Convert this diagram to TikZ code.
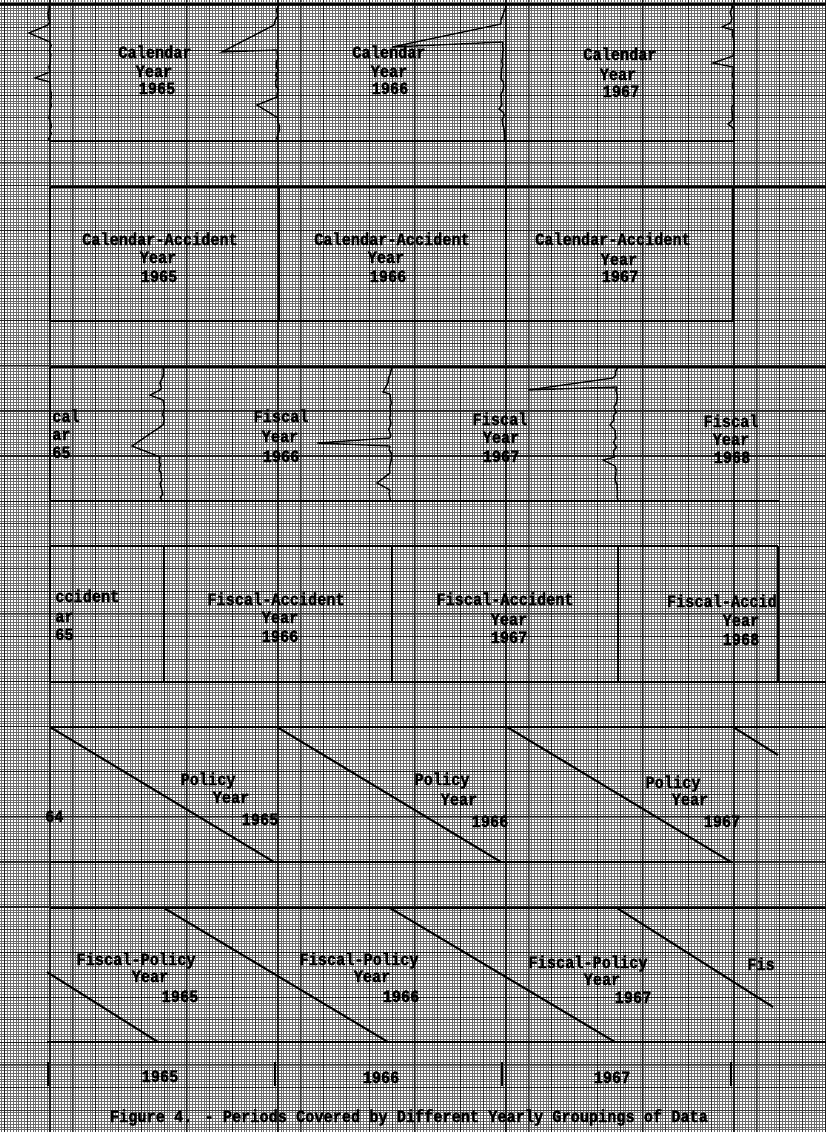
\documentclass[tikz,border=0pt]{standalone}
\usepackage{fontspec}
\newfontfamily\tw{Liberation Mono}[FakeStretch=0.88, BoldFeatures={FakeBold=1.5}]
\usetikzlibrary{decorations.pathmorphing}
\begin{document}
\begin{tikzpicture}[x=0.75pt,y=-0.75pt]
\tikzset{
 tx/.style={font=\tw\bfseries\fontsize{13}{14}\selectfont, inner sep=0pt, anchor=base},
 txl/.style={tx, anchor=base west},
 txr/.style={tx, anchor=base east},
 fineg/.style={line width=0.45pt, black!58},
 halfg/.style={line width=0.6pt, black!78},
 majg/.style={line width=0.8pt, black!88},
 boxl/.style={line width=1.5pt, black},
 brk/.style={line width=1.1pt, black, decorate, decoration={random steps, segment length=3pt, amplitude=1.1pt}},
 spk/.style={line width=1pt, black, line join=miter},
}
\pgfmathsetseed{7}
\useasboundingbox (0,0) rectangle (826,1132);
\fill[white] (0,0) rectangle (826,1132);
% ---------- graph paper ----------
\begin{scope}
\clip (0,0) rectangle (826,1132);
\draw[fineg] \foreach \j in {-17,...,272} {({50+2.85*(\j)},0) -- ({50+2.85*(\j)},1132)};
\draw[fineg] \foreach \j in {-1,...,400} {(0,{5+2.81875*(\j)}) -- (826,{5+2.81875*(\j)})};
\draw[halfg] \foreach \k in {-2,...,34} {({50+22.8*(\k)},0) -- ({50+22.8*(\k)},1132)};
\draw[halfg] \foreach \k in {0,...,50} {(0,{5+22.55*(\k)}) -- (826,{5+22.55*(\k)})};
\draw[majg] \foreach \k in {-1,...,17} {({50+45.6*(\k)},0) -- ({50+45.6*(\k)},1132)};
\draw[majg] \foreach \k in {0,...,25} {(0,{5+45.1*(\k)}) -- (826,{5+45.1*(\k)})};
\end{scope}
% ---------- row 1 : calendar year ----------
\draw[boxl] (0,4) -- (826,4);
\draw[boxl] (50,141) -- (734,141);
\draw[brk] (49,5) -- (48,25);
\draw[spk] (48,25) -- (29,33) -- (50,42);
\draw[brk] (50,42) -- (50,72);
\draw[spk] (50,72) -- (35,78) -- (50,82);
\draw[brk] (50,82) -- (50,141);
\draw[brk] (279,5) -- (274,25);
\draw[spk] (274,25) -- (222,52) -- (277,50);
\draw[brk] (277,50) -- (277,97);
\draw[spk] (277,97) -- (257,105) -- (278,118);
\draw[brk] (278,118) -- (278,141);
\draw[brk] (506,5) -- (501,24);
\draw[spk] (501,24) -- (392,47) -- (503,42);
\draw[brk] (503,42) -- (502,105);
\draw[spk] (502,105) -- (499,109) -- (503,112);
\draw[brk] (503,112) -- (505,141);
\draw[brk] (732,5) -- (730,23);
\draw[spk] (730,23) -- (722,27) -- (733,30);
\draw[brk] (733,30) -- (733,56);
\draw[spk] (733,56) -- (713,63) -- (733,67);
\draw[brk] (733,67) -- (733,120);
\draw[spk] (733,120) -- (728,124) -- (733,128);
\draw[brk] (733,128) -- (734,141);
\node[tx] (ca1) at (155,58) {Calendar};
\node[tx] (ca2) at (154,77) {Year};
\node[tx] (ca3) at (157,94) {1965};
\node[tx] (cb1) at (389,58) {Calendar};
\node[tx] (cb2) at (389,77) {Year};
\node[tx] (cb3) at (390,94) {1966};
\node[tx] (cc1) at (620,60) {Calendar};
\node[tx] (cc2) at (618,80) {Year};
\node[tx] (cc3) at (621,97) {1967};
% ---------- row 2 : calendar-accident year ----------
\draw[boxl] (50,187) -- (826,187);
\draw[boxl] (50,321) -- (734,321);
\draw[boxl] (50,187) -- (50,321);
\draw[boxl] (279,187) -- (279,321);
\draw[boxl] (506,187) -- (506,321);
\draw[boxl] (733,187) -- (733,321);
\node[tx] (da1) at (160,245) {Calendar-Accident};
\node[tx] (da2) at (158,263) {Year};
\node[tx] (da3) at (159,282) {1965};
\node[tx] (db1) at (392,245) {Calendar-Accident};
\node[tx] (db2) at (386,263) {Year};
\node[tx] (db3) at (388,282) {1966};
\node[tx] (dc1) at (613,245) {Calendar-Accident};
\node[tx] (dc2) at (619,265) {Year};
\node[tx] (dc3) at (620,282) {1967};
% ---------- row 3 : fiscal year ----------
\draw[boxl] (50,367) -- (826,367);
\draw[boxl] (50,501) -- (779,501);
\draw[boxl] (50,367) -- (50,501);
\draw[brk] (163,367) -- (160,390);
\draw[spk] (160,390) -- (150,395) -- (163,400);
\draw[brk] (163,400) -- (163,425);
\draw[spk] (163,425) -- (132,446) -- (160,457);
\draw[brk] (160,457) -- (162,501);
\draw[brk] (392,367) -- (388,383);
\draw[spk] (388,383) -- (383,392) -- (390,394);
\draw[brk] (390,394) -- (390,438);
\draw[spk] (390,438) -- (317,443) -- (390,446);
\draw[brk] (390,446) -- (390,473);
\draw[spk] (390,473) -- (377,483) -- (390,490);
\draw[brk] (390,490) -- (390,501);
\draw[brk] (618,367) -- (613,378);
\draw[spk] (613,378) -- (528,390) -- (617,387);
\draw[brk] (617,387) -- (614,420);
\draw[spk] (614,420) -- (610,425) -- (615,430);
\draw[brk] (615,430) -- (615,457);
\draw[spk] (615,457) -- (603,460) -- (615,466);
\draw[brk] (615,466) -- (618,501);
\node[txl] (ea1) at (52,422) {cal};
\node[txl] (ea2) at (52,440) {ar};
\node[txl] (ea3) at (52,458) {65};
\node[tx] (eb1) at (281,422) {Fiscal};
\node[tx] (eb2) at (280,442) {Year};
\node[tx] (eb3) at (281,462) {1966};
\node[tx] (ec1) at (500,425) {Fiscal};
\node[tx] (ec2) at (501,443) {Year};
\node[tx] (ec3) at (501,462) {1967};
\node[tx] (ed1) at (731,427) {Fiscal};
\node[tx] (ed2) at (731,445) {Year};
\node[tx] (ed3) at (732,463) {1968};
% ---------- row 4 : fiscal-accident year ----------
\draw[boxl] (50,546) -- (778,546);
\draw[boxl] (50,682) -- (826,682);
\draw[boxl] (50,546) -- (50,682);
\draw[boxl] (164,546) -- (164,682);
\draw[boxl] (392,546) -- (392,682);
\draw[boxl] (618,546) -- (618,682);
\draw[boxl] (778,546) -- (778,682);
\node[txl] (fa1) at (55,602) {ccident};
\node[txl] (fa2) at (55,622) {ar};
\node[txl] (fa3) at (55,640) {65};
\node[tx] (fb1) at (276,605) {Fiscal-Accident};
\node[tx] (fb2) at (280,623) {Year};
\node[tx] (fb3) at (280,642) {1966};
\node[tx] (fc1) at (505,605) {Fiscal-Accident};
\node[tx] (fc2) at (509,625) {Year};
\node[tx] (fc3) at (509,643) {1967};
\node[txr] (fd1) at (777,607) {Fiscal-Accid};
\node[tx] (fd2) at (741,626) {Year};
\node[tx] (fd3) at (741,645) {1968};
% ---------- row 5 : policy year ----------
\draw[boxl] (50,727) -- (826,727);
\draw[boxl] (50,862) -- (733,862);
\draw[boxl] (50,727) -- (274,862);
\draw[boxl] (277,727) -- (501,862);
\draw[boxl] (507,727) -- (731,862);
\draw[boxl] (733,727) -- (778,755);
\node[txl] (ga0) at (45,822) {64};
\node[tx] (ga1) at (208,785) {Policy};
\node[tx] (ga2) at (231,803) {Year};
\node[tx] (ga3) at (260,825) {1965};
\node[tx] (gb1) at (442,785) {Policy};
\node[tx] (gb2) at (459,805) {Year};
\node[tx] (gb3) at (490,827) {1966};
\node[tx] (gc1) at (673,788) {Policy};
\node[tx] (gc2) at (690,805) {Year};
\node[tx] (gc3) at (722,827) {1967};
% ---------- row 6 : fiscal-policy year ----------
\draw[boxl] (50,908) -- (826,908);
\draw[boxl] (47,1042) -- (826,1042);
\draw[boxl] (47,972) -- (158,1042);
\draw[boxl] (164,908) -- (388,1042);
\draw[boxl] (390,908) -- (615,1042);
\draw[boxl] (617,908) -- (773,1007);
\node[tx] (ha1) at (136,965) {Fiscal-Policy};
\node[tx] (ha2) at (150,982) {Year};
\node[tx] (ha3) at (180,1002) {1965};
\node[tx] (hb1) at (359,965) {Fiscal-Policy};
\node[tx] (hb2) at (372,982) {Year};
\node[tx] (hb3) at (401,1002) {1966};
\node[tx] (hc1) at (588,968) {Fiscal-Policy};
\node[tx] (hc2) at (602,985) {Year};
\node[tx] (hc3) at (633,1003) {1967};
\node[tx] (hd1) at (761,970) {Fis};
% ---------- row 7 : calendar scale ----------
\draw[boxl] (48,1062) -- (48,1086);
\draw[boxl] (275,1062) -- (275,1086);
\draw[boxl] (502,1062) -- (502,1086);
\draw[boxl] (731,1062) -- (731,1086);
\node[tx] (ia) at (160,1082) {1965};
\node[tx] (ib) at (381,1083) {1966};
\node[tx] (ic) at (612,1083) {1967};
% ---------- caption ----------
\node[tx] (cap) at (409,1122) {Figure 4. - Periods Covered by Different Yearly Groupings of Data};
\end{tikzpicture}
\end{document}
